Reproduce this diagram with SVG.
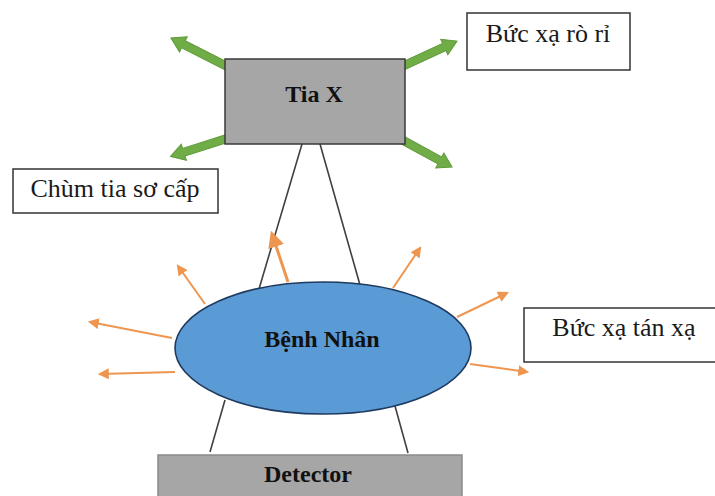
<svg xmlns="http://www.w3.org/2000/svg" width="715" height="496" viewBox="0 0 715 496">
  <style>
    .box { fill: #ffffff; stroke: #333333; stroke-width: 1.5; }
    .grey { fill: #a6a6a6; stroke: #3a3a3a; stroke-width: 1.5; }
    .det { fill: #a6a6a6; stroke: #8a8a8a; stroke-width: 1.5; }
    .lbl { font-family: "Liberation Serif", "Times New Roman", serif; font-size: 26px; fill: #1a1a1a; text-anchor: middle; }
    .bold { font-weight: bold; font-size: 24px; fill: #111111; }
    .beam { stroke: #404040; stroke-width: 1.6; fill: none; }
    .leak { fill: #70ad47; stroke: #5e9a3a; stroke-width: 1; }
    .scatter { stroke: #ee9650; stroke-width: 2; fill: none; marker-end: url(#oh); }
  </style>
  <defs>
    <marker id="oh" viewBox="0 0 10 10" refX="8" refY="5" markerWidth="5.5" markerHeight="5.5" orient="auto">
      <path d="M0,0 L10,5 L0,10 Z" fill="#ee9650"/>
    </marker>
  </defs>

  <!-- beam lines -->
  <g id="connectors">
    <line class="beam" x1="302" y1="144" x2="259" y2="289"/>
    <line class="beam" x1="320" y1="144" x2="360" y2="285"/>
    <line class="beam" x1="225" y1="400" x2="210" y2="452"/>
    <line class="beam" x1="395" y1="406" x2="408" y2="453"/>

    <!-- scattered radiation -->
    <line class="scatter" x1="288" y1="282" x2="272" y2="234" style="stroke-width:3"/>
    <line class="scatter" x1="205" y1="304" x2="178" y2="266"/>
    <line class="scatter" x1="172" y1="338" x2="90" y2="322"/>
    <line class="scatter" x1="175" y1="372" x2="100" y2="374"/>
    <line class="scatter" x1="393" y1="288" x2="420" y2="248"/>
    <line class="scatter" x1="457" y1="317" x2="507" y2="293"/>
    <line class="scatter" x1="470" y1="364" x2="527" y2="372"/>

    <!-- leakage radiation -->
    <path class="leak" transform="translate(236,71) rotate(206.9)" d="M0,-4 H59 V-8.5 L73,0 L59,8.5 V4 H0 Z"/>
    <path class="leak" transform="translate(241,134) rotate(162.3)" d="M0,-4 H60 V-8.5 L74,0 L60,8.5 V4 H0 Z"/>
    <path class="leak" transform="translate(388,73) rotate(-24.8)" d="M0,-4 H62 V-8.5 L76,0 L62,8.5 V4 H0 Z"/>
    <path class="leak" transform="translate(395,136) rotate(28.6)" d="M0,-4 H51 V-8.5 L65,0 L51,8.5 V4 H0 Z"/>
  </g>

  <g id="tia-x">
    <rect class="grey" x="225" y="59" width="180" height="85"/>
    <text class="lbl bold" x="314" y="102">Tia X</text>
  </g>

  <g id="buc-xa-ro-ri">
    <rect class="box" x="467" y="13" width="163" height="57"/>
    <text class="lbl" x="548" y="42">Bức xạ rò rỉ</text>
  </g>

  <g id="chum-tia">
    <rect class="box" x="13" y="169" width="205" height="44"/>
    <text class="lbl" x="115" y="197">Chùm tia sơ cấp</text>
  </g>

  <g id="benh-nhan">
    <ellipse cx="323" cy="348" rx="148" ry="66" fill="#5b9bd5" stroke="#1f3a5f" stroke-width="1.6"/>
    <text class="lbl bold" x="322" y="347">Bệnh Nhân</text>
  </g>

  <g id="buc-xa-tan-xa">
    <rect class="box" x="524" y="308" width="200" height="54"/>
    <text class="lbl" x="624" y="336">Bức xạ tán xạ</text>
  </g>

  <g id="detector">
    <rect class="det" x="158" y="455" width="304" height="50"/>
    <text class="lbl bold" x="308" y="482">Detector</text>
  </g>
</svg>
